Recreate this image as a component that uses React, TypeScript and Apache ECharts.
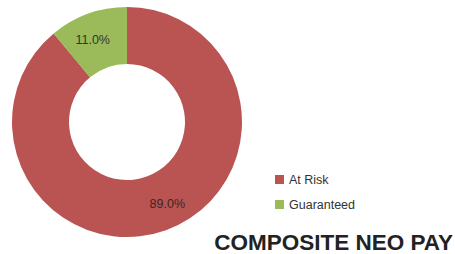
import React, { useEffect, useRef } from "react";
import * as echarts from "echarts";

const categories = ["At Risk", "Guaranteed"];
const values = [89.0, 11.0];
const colors = ["#B95452", "#9BBB5A"];
const titleText = "COMPOSITE NEO PAY";

export default function App() {
  const ref = useRef<HTMLDivElement>(null);
  useEffect(() => {
    if (!ref.current) return;
    const chart = echarts.init(ref.current, null, { renderer: "svg" });
    chart.setOption({
      animation: false,
      backgroundColor: "#ffffff",
      title: {
        text: titleText,
        right: 2,
        bottom: 0,
        textStyle: {
          fontFamily: "Liberation Sans, Arial, sans-serif",
          fontWeight: "bold",
          fontSize: 22.5,
          color: "#222",
        },
        padding: 0,
      },
      legend: {
        orient: "vertical",
        left: 275,
        top: 173,
        itemWidth: 9,
        itemHeight: 9,
        itemGap: 12,
        icon: "rect",
        data: categories,
        textStyle: {
          fontFamily: "Liberation Sans, Arial, sans-serif",
          fontSize: 12.5,
          color: "#333",
        },
        padding: 0,
      },
      series: [
        {
          type: "pie",
          center: [127, 122],
          radius: [58, 115],
          startAngle: 90,
          clockwise: true,
          label: {
            show: true,
            position: "inside",
            formatter: (p: any) => p.value.toFixed(1) + "%",
            fontFamily: "Liberation Sans, Arial, sans-serif",
            fontSize: 12.5,
            color: "#3a2626",
          },
          labelLine: { show: false },
          emphasis: { disabled: true },
          data: categories.map((c, i) => ({
            name: c,
            value: values[i],
            itemStyle: { color: colors[i] },
            label: i === 0 ? { offset: [10, -2] } : { offset: [-4, 2], color: "#333" },
          })),
        },
      ],
    });
    return () => chart.dispose();
  }, []);
  return (
    <div
      ref={ref}
      style={{ position: "fixed", left: 0, top: 0, width: 455, height: 254 }}
    />
  );
}
